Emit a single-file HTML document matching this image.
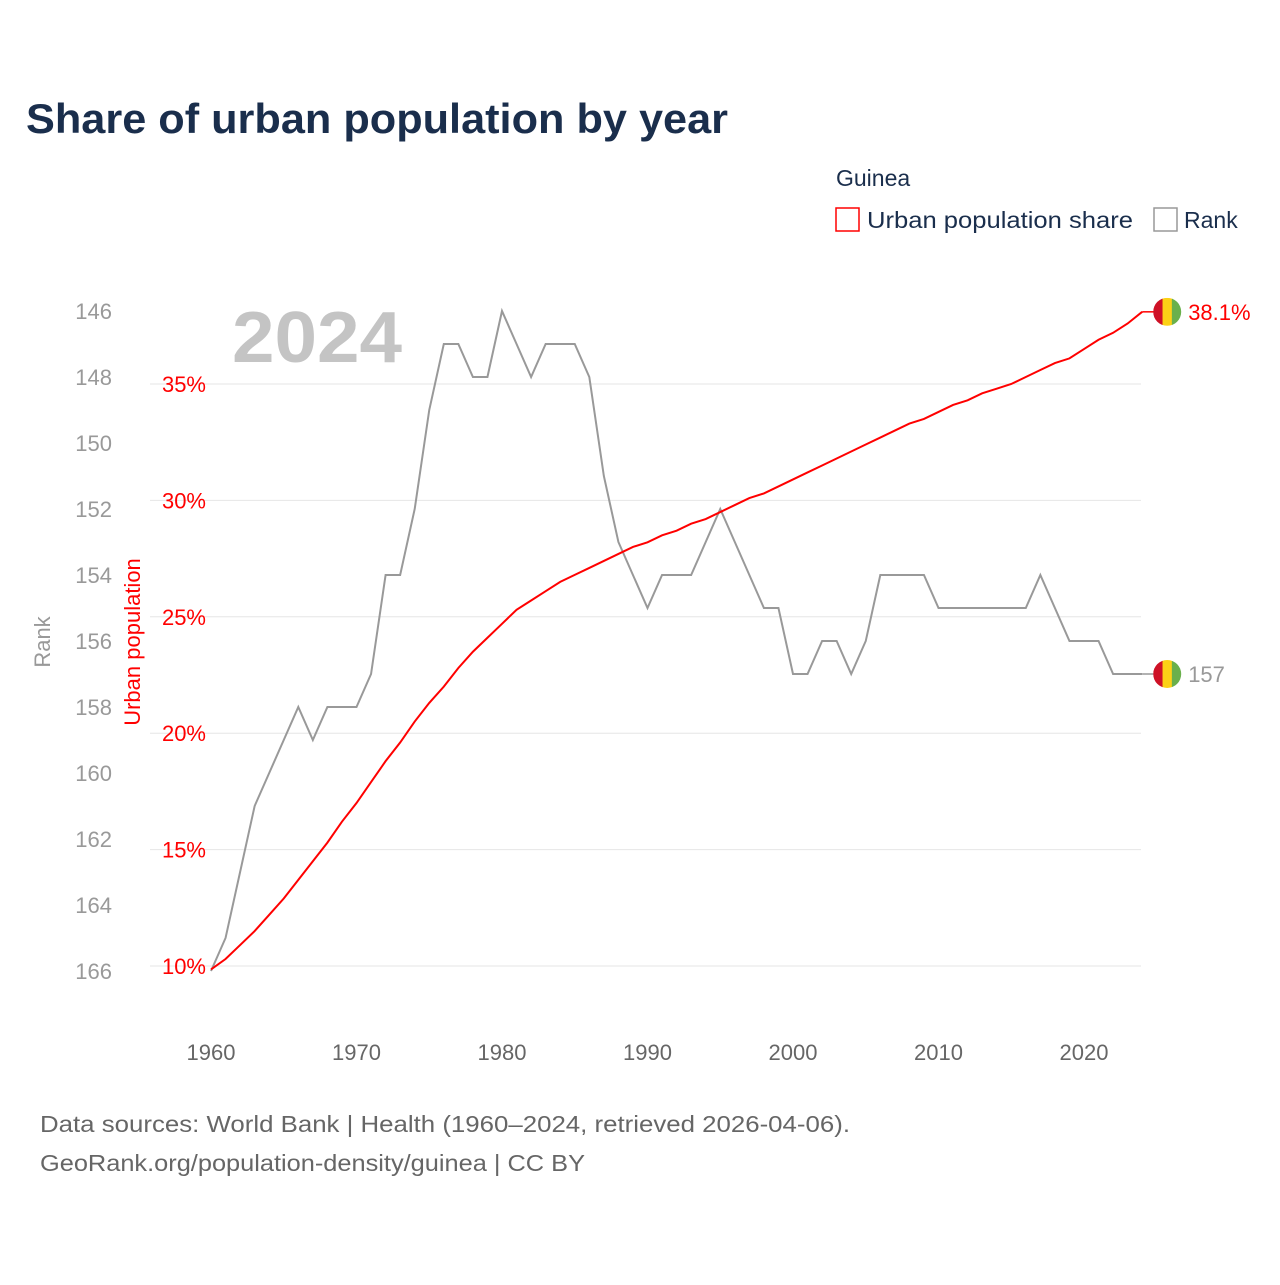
<!DOCTYPE html>
<html><head><meta charset="utf-8"><style>
body{margin:0;background:#fff;font-family:"Liberation Sans",sans-serif;}
svg text{font-family:"Liberation Sans",sans-serif;}
</style></head><body>
<svg width="1280" height="1280">
<text x="26" y="133" font-size="42" font-weight="bold" fill="#1a2e4c" textLength="702" lengthAdjust="spacingAndGlyphs">Share of urban population by year</text>
<text x="836" y="186" font-size="23" fill="#1a2e4c">Guinea</text>
<g><rect x="836" y="208" width="23" height="23" fill="none" stroke="red" stroke-width="1.5"/><text x="867" y="228" font-size="23" fill="#1a2e4c" textLength="266" lengthAdjust="spacingAndGlyphs">Urban population share</text></g>
<g><rect x="1154" y="208" width="23" height="23" fill="none" stroke="#999" stroke-width="1.5"/><text x="1184" y="228" font-size="23" fill="#1a2e4c">Rank</text></g>
<text x="232" y="362" font-size="72" font-weight="bold" fill="#c4c4c4" textLength="170" lengthAdjust="spacingAndGlyphs">2024</text>
<g id="grid"></g><g id="axes"></g><g id="series"></g>
<text transform="translate(50,642) rotate(-90)" text-anchor="middle" font-size="22" fill="#999">Rank</text>
<text transform="translate(140,642) rotate(-90)" text-anchor="middle" font-size="22" fill="red">Urban population</text>
<text x="40" y="1132" font-size="23" fill="#666" textLength="810" lengthAdjust="spacingAndGlyphs">Data sources: World Bank | Health (1960–2024, retrieved 2026-04-06).</text>
<text x="40" y="1171" font-size="23" fill="#666" textLength="545" lengthAdjust="spacingAndGlyphs">GeoRank.org/population-density/guinea | CC BY</text>
</svg>
<script>
const years=[];for(let y=1960;y<=2024;y++)years.push(y);
const urbanShare=[9.85,10.3,10.9,11.5,12.2,12.9,13.7,14.5,15.3,16.2,17.0,17.9,18.8,19.6,20.5,21.3,22.0,22.8,23.5,24.1,24.7,25.3,25.7,26.1,26.5,26.8,27.1,27.4,27.7,28.0,28.2,28.5,28.7,29.0,29.2,29.5,29.8,30.1,30.3,30.6,30.9,31.2,31.5,31.8,32.1,32.4,32.7,33.0,33.3,33.5,33.8,34.1,34.3,34.6,34.8,35.0,35.3,35.6,35.9,36.1,36.5,36.9,37.2,37.6,38.1];
const rankValues=[166,165,163,161,160,159,158,159,158,158,158,157,154,154,152,149,147,147,148,148,146,147,148,147,147,147,148,151,153,154,155,154,154,154,153,152,153,154,155,155,157,157,156,156,157,156,154,154,154,154,155,155,155,155,155,155,155,154,155,156,156,156,157,157,157];
const urbanTicks=[10,15,20,25,30,35];
const rankTicks=[146,148,150,152,154,156,158,160,162,164,166];
const xTicks=[1960,1970,1980,1990,2000,2010,2020];
const NS="http://www.w3.org/2000/svg";
const X=y=>211+(y-1960)*(873/60);
const YU=v=>966-(v-10)*23.28;
const YR=r=>311+(r-146)*33;
function mk(p,tag,a){const e=document.createElementNS(NS,tag);for(const k in a)e.setAttribute(k,a[k]);document.getElementById(p).appendChild(e);return e;}
urbanTicks.forEach(t=>{
 const l=mk('grid','line',{x1:150,x2:1141,y1:YU(t),y2:YU(t),stroke:'#e6e6e6','stroke-width':1});
 
 
 const tx=mk('axes','text',{x:206,y:YU(t)+8,'text-anchor':'end','font-size':22,fill:'red'});tx.textContent=t+'%';
 
 
});
rankTicks.forEach(t=>{
 const tx=mk('axes','text',{x:112,y:YR(t)+8,'text-anchor':'end','font-size':22,fill:'#999'});tx.textContent=t;
 
 
});
xTicks.forEach(t=>{
 const tx=mk('axes','text',{x:X(t),y:1060,'text-anchor':'middle','font-size':22,fill:'#666'});tx.textContent=t;
 
 
});
const rp=mk('series','polyline',{points:years.map((y,i)=>X(y)+','+YR(rankValues[i])).join(' '),fill:'none',stroke:'#999','stroke-width':2});


const up=mk('series','polyline',{points:years.map((y,i)=>X(y)+','+YU(urbanShare[i])).join(' '),fill:'none',stroke:'red','stroke-width':2});


function flag(yv,color,label,name){
 const n=years.length-1,x0=X(years[n]);
 mk('series','line',{x1:x0,x2:x0+12,y1:yv,y2:yv,stroke:color,'stroke-width':1.5});
 const cx=x0+25,r=14;
 const g=mk('series','g',{});
 
 
 const cid='c'+name;
 const cp=document.createElementNS(NS,'clipPath');cp.setAttribute('id',cid);
 const c=document.createElementNS(NS,'circle');c.setAttribute('cx',cx);c.setAttribute('cy',yv);c.setAttribute('r',r);cp.appendChild(c);g.appendChild(cp);
 ['#ce1126','#fcd116','#6ab04c'].forEach((col,i)=>{const re=document.createElementNS(NS,'rect');re.setAttribute('x',cx-r+i*2*r/3);re.setAttribute('y',yv-r);re.setAttribute('width',2*r/3+0.5);re.setAttribute('height',2*r);re.setAttribute('fill',col);re.setAttribute('clip-path','url(#'+cid+')');g.appendChild(re);});
 const t=mk('series','text',{x:cx+21,y:yv+8,'font-size':22,fill:color});t.textContent=label;
 
 
}
flag(YU(urbanShare[urbanShare.length-1]),'red',urbanShare[urbanShare.length-1].toFixed(1)+'%','urban');
flag(YR(rankValues[rankValues.length-1]),'#999',String(rankValues[rankValues.length-1]),'rank');
</script>
</body></html>
